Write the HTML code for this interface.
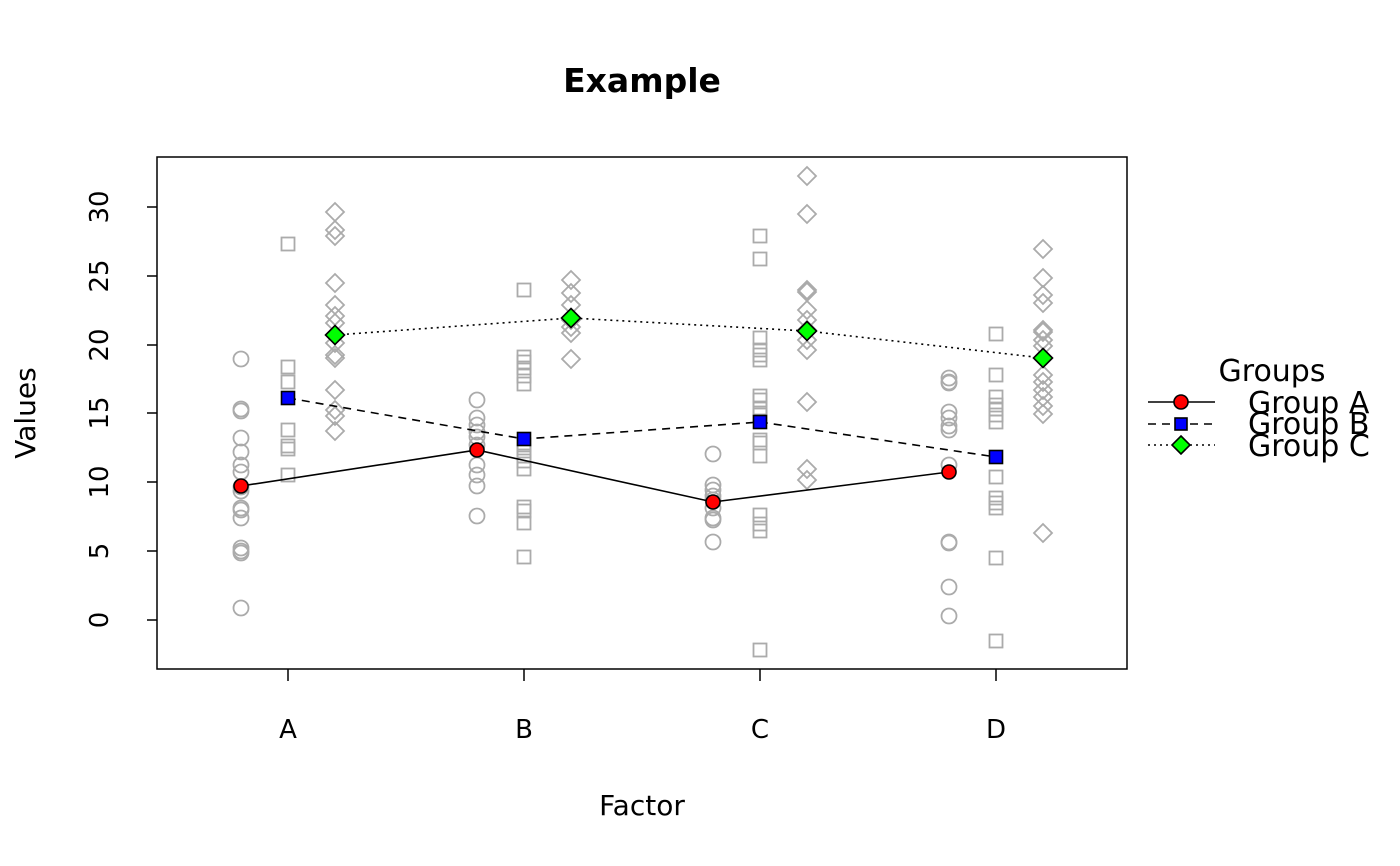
<!DOCTYPE html>
<html><head><meta charset="utf-8"><style>body{margin:0;background:#fff}svg{display:block}text{font-family:"DejaVu Sans","Liberation Sans",sans-serif}</style></head>
<body>
<svg id="s" width="1400" height="866" xmlns="http://www.w3.org/2000/svg">
<rect width="1400" height="866" fill="#fff"/>
<text x="642" y="92" font-size="33" font-weight="bold" text-anchor="middle">Example</text>
<rect x="157" y="157" width="970" height="512" fill="none" stroke="#000" stroke-width="1.5"/>
<g stroke="#000" stroke-width="1.5">
<line x1="147" y1="620" x2="157" y2="620"/><line x1="147" y1="551" x2="157" y2="551"/><line x1="147" y1="482" x2="157" y2="482"/><line x1="147" y1="413" x2="157" y2="413"/><line x1="147" y1="345" x2="157" y2="345"/><line x1="147" y1="276" x2="157" y2="276"/><line x1="147" y1="207" x2="157" y2="207"/>
<line x1="288" y1="669" x2="288" y2="681"/><line x1="524" y1="669" x2="524" y2="681"/><line x1="760" y1="669" x2="760" y2="681"/><line x1="996" y1="669" x2="996" y2="681"/>
</g>
<g font-size="26" text-anchor="middle">
<text transform="translate(108,620) rotate(-90)">0</text>
<text transform="translate(108,551) rotate(-90)">5</text>
<text transform="translate(108,482) rotate(-90)">10</text>
<text transform="translate(108,413) rotate(-90)">15</text>
<text transform="translate(108,345) rotate(-90)">20</text>
<text transform="translate(108,276) rotate(-90)">25</text>
<text transform="translate(108,207) rotate(-90)">30</text>
<text x="288" y="738">A</text><text x="524" y="738">B</text><text x="760" y="738">C</text><text x="996" y="738">D</text>
<text x="642" y="815" font-size="28">Factor</text>
<text transform="translate(35,413) rotate(-90)" font-size="28">Values</text>
</g>
<g id="pts" fill="none" stroke="#ababab" stroke-width="1.8"></g>
<g id="lines" fill="none" stroke="#000" stroke-width="1.6"></g>
<g id="means" stroke="#000" stroke-width="1.6"></g>
<text x="1272" y="381" font-size="30" text-anchor="middle">Groups</text>
<g font-size="30">
<text x="1248" y="413">Group A</text>
<text x="1248" y="434">Group B</text>
<text x="1248" y="456">Group C</text>
</g>
<g stroke="#000" stroke-width="1.6">
<line x1="1148" y1="402" x2="1215" y2="402"/>
<line x1="1148" y1="424" x2="1215" y2="424" stroke-dasharray="8,6"/>
<line x1="1148" y1="445" x2="1215" y2="445" stroke-dasharray="2,4"/>
<circle cx="1181" cy="402" r="7" fill="#f00"/>
<rect x="1175" y="418" width="12" height="12" fill="#00f"/>
<polygon points="1181,436 1190,445 1181,454 1172,445" fill="#0f0"/>
</g>
</svg>
<script>
var NS="http://www.w3.org/2000/svg";
function el(p,t,a){var e=document.createElementNS(NS,t);for(var k in a)e.setAttribute(k,a[k]);p.appendChild(e);return e;}
var P=document.getElementById("pts"),L=document.getElementById("lines"),M=document.getElementById("means");
function circ(p,x,y,r,f){return el(p,"circle",{cx:x,cy:y,r:r,fill:f||"none"});}
function sq(p,x,y,h,f){return el(p,"rect",{x:x-h,y:y-h,width:2*h,height:2*h,fill:f||"none"});}
function dia(p,x,y,h,f){return el(p,"polygon",{points:x+","+(y-h)+" "+(x+h)+","+y+" "+x+","+(y+h)+" "+(x-h)+","+y,fill:f||"none"});}
var X=[288,524,760,996];
var d={
A:[[359,409,411,438,452,465,472,487,491,508,510,518,548,551,553,608],[400,418,425,432,437,445,465,475,486,516],[454,485,490,496,500,508,518,520,542],[378,382,383,412,418,426,430,465,542,543,587,616]],
B:[[244,367,382,430,446,449,475],[290,357,362,368,376,384,445,451,456,461,469,507,511,523,557],[236,259,338,350,355,360,396,400,408,415,440,443,456,515,524,531,650],[334,375,397,405,409,415,422,477,498,503,508,558,641]],
C:[[212,230,236,283,305,316,323,343,355,358,390,410,416,431],[280,293,305,320,327,333,359],[176,214,290,292,310,320,330,340,350,402,469,480],[249,278,295,303,330,332,340,346,358,375,382,390,397,406,414,533]]};
var means={A:[486,450,502,472],B:[398,439,422,457],C:[335,318,331,358]};
var off={A:-47,B:0,C:47};
["A","B","C"].forEach(function(g){for(var i=0;i<4;i++){var x=X[i]+off[g];d[g][i].forEach(function(y){
if(g=="A")circ(P,x,y,7.5);else if(g=="B")sq(P,x,y,6.5);else dia(P,x,y,9);});}});
var dash={A:"",B:"8,6",C:"2,4"};
["A","B","C"].forEach(function(g){var pts=X.map(function(x,i){return (x+off[g])+","+means[g][i];}).join(" ");
var a={points:pts};if(dash[g])a["stroke-dasharray"]=dash[g];el(L,"polyline",a);
for(var i=0;i<4;i++){var x=X[i]+off[g],y=means[g][i];
if(g=="A")circ(M,x,y,7,"#f00");else if(g=="B")sq(M,x,y,6.5,"#00f");else dia(M,x,y,9.5,"#0f0");}});
</script>
</body></html>
